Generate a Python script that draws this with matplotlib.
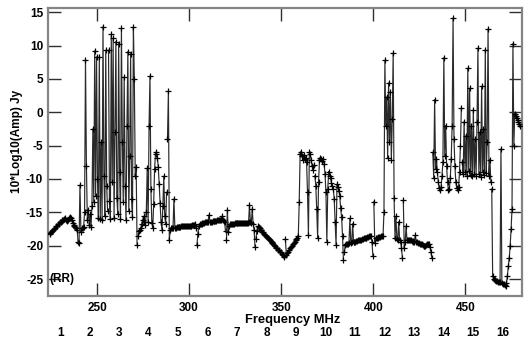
import numpy as np
import matplotlib
matplotlib.use("Agg")
import matplotlib.pyplot as plt
from matplotlib.transforms import blended_transform_factory

# Spectral windows: 16 windows of 16 MHz, 32 channels each
spw_ids = list(range(1, 17))
spw_first_freq = 224.0      # MHz, lower edge of window 1
spw_width = 16.0            # MHz
n_chan = 32
chan_width = spw_width / n_chan

# Amplitude per channel, 10*log10(Amp) in Jy, RR polarization
amp_spw01 = [-18.3, -18.1, -18.0, -17.8, -17.6, -17.5, -17.3, -17.1,
             -17.0, -16.8, -16.7, -16.5, -16.4, -16.3, -16.2, -16.1,
             -16.0, -15.9, -16.1, -16.3, -16.2, -15.9, -15.7, -15.8,
             -16.2, -16.6, -16.9, -17.1, -17.2, -17.3, -17.6, -19.5]
amp_spw02 = [-19.6, -10.9, -17.9, -17.4, -17.3, -17.2, -15.0, 7.9,
             -8.0, -16.1, -14.6, -16.9, -15.3, -17.2, -14.0, -2.5,
             -13.5, 9.2, -12.6, 8.3, -10.0, -15.8, 8.3, -16.0,
             -4.5, -16.1, 12.8, -9.5, -15.5, 9.3, -11.0, -14.8]
amp_spw03 = [9.3, -13.3, -16.0, 11.7, -10.5, 11.1, -15.8, -3.0,
             10.6, -12.8, -15.2, 10.3, -9.0, -16.0, 12.6, -4.5,
             -13.5, 5.3, -11.0, -16.2, -2.0, 9.1, -14.8, -6.5,
             8.8, -13.0, -15.7, 12.8, 5.0, -9.5, -8.2, -19.9]
amp_spw04 = [-18.6, -17.8, -17.6, -17.3, -16.8, -16.2, -15.6, -16.4,
             -16.9, -15.0, -8.4, -16.5, -2.0, 5.4, -11.5, -16.6,
             -17.3, -13.8, -8.5, -6.2, -5.9, -6.8, -8.2, -10.8,
             -13.6, -16.4, -17.6, -14.0, -9.6, -15.5, -16.8, -12.0]
amp_spw05 = [-4.0, 3.2, -19.1, -17.6, -17.4, -17.3, -17.3, -13.0,
             -17.3, -17.3, -17.2, -17.2, -17.2, -17.2, -17.2, -17.1,
             -17.1, -17.1, -17.1, -17.1, -17.1, -17.0, -17.0, -17.0,
             -17.0, -17.0, -17.0, -16.9, -16.9, -16.9, -16.8, -17.4]
amp_spw06 = [-19.9, -18.2, -17.0, -16.8, -16.7, -16.7, -16.6, -16.6,
             -16.6, -16.5, -16.5, -16.5, -16.4, -15.4, -16.4, -16.4,
             -16.4, -16.3, -16.3, -16.3, -16.3, -16.3, -16.2, -16.2,
             -16.2, -16.2, -16.1, -15.6, -16.2, -16.3, -16.5, -17.8]
amp_spw07 = [-19.2, -14.6, -18.0, -17.0, -16.8, -16.7, -16.7, -16.7,
             -16.7, -16.6, -16.6, -16.6, -16.6, -16.6, -16.6, -16.6,
             -16.6, -16.6, -16.6, -16.6, -16.6, -16.6, -16.6, -16.6,
             -16.5, -13.9, -16.5, -16.6, -14.5, -16.7, -17.6, -20.2]
amp_spw08 = [-19.0, -17.8, -17.1, -17.2, -17.4, -17.6, -17.7, -17.9,
             -18.0, -18.2, -18.4, -18.5, -18.7, -18.8, -19.0, -19.1,
             -19.3, -19.5, -19.6, -19.8, -19.9, -20.1, -20.3, -20.4,
             -20.6, -20.7, -20.9, -21.0, -21.2, -21.4, -21.5, -21.7]
amp_spw09 = [-19.0, -21.4, -21.1, -20.9, -20.6, -20.4, -20.2, -20.0,
             -19.8, -19.6, -19.4, -19.2, -19.0, -18.9, -18.6, -13.5,
             -6.2, -5.9, -6.6, -7.2, -6.4, -7.0, -6.8, -7.5,
             -12.0, -18.4, -6.0, -6.3, -7.2, -8.0, -8.6, -7.9]
amp_spw10 = [-9.5, -11.0, -14.5, -18.9, -10.5, -7.2, -6.9, -7.0,
             -7.3, -7.0, -7.8, -9.2, -12.0, -19.4, -11.5, -8.9,
             -9.5, -9.8, -10.6, -11.1, -11.5, -13.0, -16.5, -19.9,
             -10.8, -11.2, -11.8, -12.5, -14.4, -15.7, -18.5, -22.2]
amp_spw11 = [-21.0, -19.9, -19.8, -19.7, -19.7, -19.6, -15.9, -19.6,
             -19.5, -16.7, -19.5, -19.4, -19.4, -19.3, -19.3, -19.2,
             -19.2, -19.1, -19.1, -19.0, -19.0, -18.9, -18.9, -18.8,
             -18.8, -18.7, -18.7, -18.6, -18.6, -18.6, -19.5, -21.6]
amp_spw12 = [-13.4, -19.6, -18.9, -18.8, -18.8, -18.7, -18.7, -18.7,
             -18.6, -18.6, -18.5, -15.0, 7.8, -2.0, 2.3, -6.8,
             4.4, -4.5, 3.1, -7.1, -1.0, 8.9, -12.9, -18.9,
             -15.6, -19.0, -19.1, -16.4, -19.2, -19.4, -20.3, -21.8]
amp_spw13 = [-13.2, -20.3, -19.5, -17.1, -19.2, -19.1, -19.1, -19.2,
             -19.2, -19.3, -19.3, -19.4, -19.4, -18.4, -19.5, -19.5,
             -19.6, -19.6, -19.7, -19.8, -19.8, -19.9, -20.0, -20.1,
             -20.1, -19.9, -19.7, -19.7, -19.8, -20.2, -21.0, -21.9]
amp_spw14 = [-6.0, -9.8, 1.9, -8.5, -7.0, -9.0, -10.5, -11.3,
             -11.6, -11.2, -9.5, -7.5, 8.2, -6.5, -2.0, -8.0,
             -10.5, -11.7, -11.5, -9.8, -7.0, -2.0, 14.1, -4.0,
             -8.0, -10.5, -11.4, -11.6, -11.2, -9.0, -5.0, 0.6]
amp_spw15 = [-7.5, -9.3, -1.4, -9.0, -3.5, -9.5, 6.6, -8.8,
             3.6, -9.4, -2.0, -9.6, 0.4, -9.2, -4.0, -9.5,
             -1.5, 9.6, -9.3, -3.0, -9.7, 3.9, -9.0, -2.5,
             -9.4, 9.4, -9.1, -4.5, 12.5, -9.6, -7.1, -10.4]
amp_spw16 = [-11.5, -24.6, -25.0, -25.1, -25.2, -25.3, -25.3, -25.4,
             -25.5, -25.5, -5.5, -25.6, -25.7, -25.8, -25.9, -26.0,
             -25.6, -24.5, -23.1, -21.8, -20.0, -17.5, -14.5, 10.3,
             -5.0, -0.2, -0.6, -0.9, -1.2, -1.5, -1.8, -2.0]

spw_amps = [amp_spw01, amp_spw02, amp_spw03, amp_spw04, amp_spw05, amp_spw06,
            amp_spw07, amp_spw08, amp_spw09, amp_spw10, amp_spw11, amp_spw12,
            amp_spw13, amp_spw14, amp_spw15, amp_spw16]

x_ticks = [250, 300, 350, 400, 450]
y_ticks = [15, 10, 5, 0, -5, -10, -15, -20, -25]
x_limits = (223.4, 480.4)
y_limits = (-27.5, 15.7)

plt.rcParams['font.family'] = ['Liberation Sans', 'DejaVu Sans']
plt.rcParams['font.weight'] = 'bold'

W, H = 527, 344
fig = plt.figure(figsize=(W / 100, H / 100), dpi=100)
ax = fig.add_axes([48 / W, 1 - 295.7 / H, (521.5 - 48) / W, (295.7 - 7.5) / H])

for sid, amps in zip(spw_ids, spw_amps):
    lo = spw_first_freq + (sid - 1) * spw_width
    freqs = lo + chan_width * (np.arange(n_chan) + 0.5)
    ax.plot(freqs, amps, color='#2a2a2a', lw=0.85, marker='+', ms=5,
            mec='black', mew=0.9, zorder=3)

ax.set_xlim(*x_limits)
ax.set_ylim(*y_limits)
ax.set_xticks(x_ticks)
ax.set_yticks(y_ticks)
ax.set_xticklabels([str(t) for t in x_ticks])
ax.set_yticklabels([str(t) for t in y_ticks])

for sp in ax.spines.values():
    sp.set_color('#858585')
    sp.set_linewidth(1.6)

ax.tick_params(axis='both', which='major', direction='in', length=9.5,
               width=1.0, color='#303030', labelsize=8.5)
ax.tick_params(axis='x', top=True, bottom=True, pad=4.5)
ax.tick_params(axis='y', left=True, right=True, pad=3.5)
for lab in ax.get_xticklabels() + ax.get_yticklabels():
    lab.set_fontweight('bold')

# polarization tag
ax.text(0.003, -25, '(RR)', transform=blended_transform_factory(ax.transAxes, ax.transData),
        ha='left', va='center', fontsize=8.5, fontweight='bold')

# axis titles
fig.text(293 / W, 1 - 323.3 / H, 'Frequency MHz', ha='center', va='baseline',
         fontsize=9.3, fontweight='bold')
fig.text(17 / W, 1 - 141 / H, '10*Log10(Amp) Jy', ha='center', va='center',
         rotation=90, fontsize=8.5, fontweight='bold')

# spectral window numbers under the frequency axis
spw_label_tr = blended_transform_factory(ax.transData, fig.transFigure)
for sid in spw_ids:
    lo = spw_first_freq + (sid - 1) * spw_width
    ax.text(lo + 6.0, 1 - 336.5 / H, str(sid), transform=spw_label_tr,
            ha='center', va='baseline', fontsize=8.5, fontweight='bold', clip_on=False)

fig.savefig('out.png', dpi=100)
